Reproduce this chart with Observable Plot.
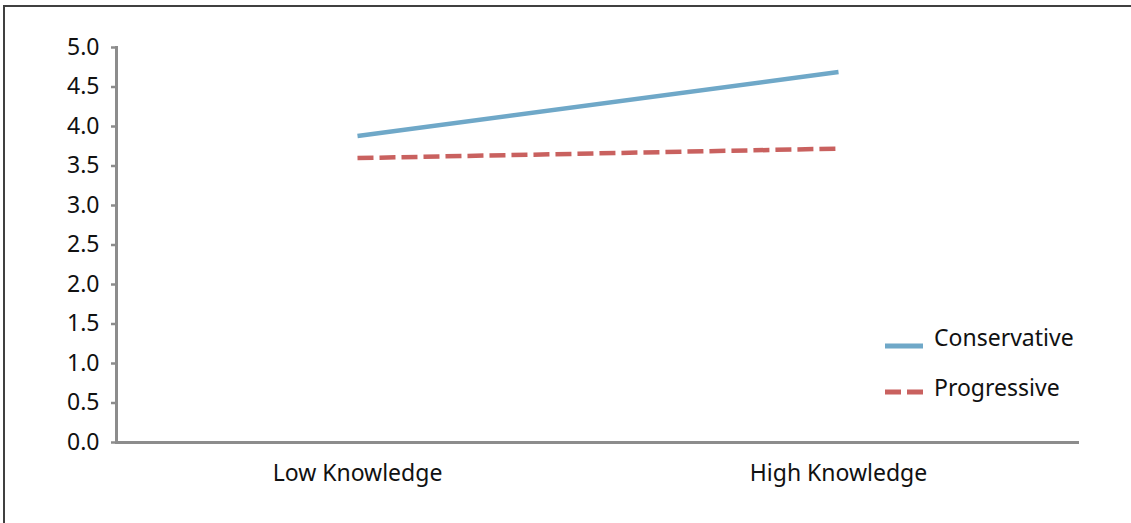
<!DOCTYPE html>
<html><head><meta charset="utf-8">
<script src="https://cdn.jsdelivr.net/npm/d3@7"></script>
<script src="https://cdn.jsdelivr.net/npm/@observablehq/plot@0.6"></script>
<style>
html,body{margin:0;padding:0;background:#fff;}
#wrap{position:relative;width:1131px;height:523px;overflow:hidden;}
#frame{position:absolute;left:3px;top:5px;width:1140px;height:540px;border-left:2px solid #404040;border-top:2px solid #404040;box-sizing:border-box;}
#chart{position:absolute;left:0;top:0;}
.legtext{position:absolute;left:934px;font-family:"Noto Sans",sans-serif;font-size:23px;line-height:23px;color:#111;white-space:nowrap;}
.legline{position:absolute;left:885px;}
</style></head>
<body><div id="wrap"><div id="frame"></div><div id="chart"></div><div id="legend"></div></div>
<script>
const categories = ["Low Knowledge", "High Knowledge"];
const seriesNames = ["Conservative", "Progressive"];
const conservative = [3.88, 4.69];
const progressive = [3.60, 3.72];
const yTicks = [0, 0.5, 1, 1.5, 2, 2.5, 3, 3.5, 4, 4.5, 5];
const colors = ["#6fa8c8", "#c9615f"];
const dashes = [null, "16,6"];

const data = [];
categories.forEach((c, i) => {
  data.push({series: seriesNames[0], cat: c, value: conservative[i]});
  data.push({series: seriesNames[1], cat: c, value: progressive[i]});
});

const axisColor = "#8c8c8c";
const chart = Plot.plot({
  width: 1131, height: 523,
  marginLeft: 116, marginRight: 52, marginTop: 47, marginBottom: 81,
  style: {fontFamily: '"Noto Sans",sans-serif', fontSize: "23px", color: "#111", background: "transparent", overflow: "visible"},
  x: {type: "point", domain: categories, padding: 0.5},
  y: {domain: [0, 5]},
  marks: [
    Plot.axisY({ticks: yTicks, tickFormat: d => d.toFixed(1), tickSize: 5, tickPadding: 12, stroke: axisColor, strokeWidth: 2.5, fill: "#111", label: null}),
    Plot.axisX({tickSize: 0, tickPadding: 22, fill: "#111", label: null}),
    Plot.frame({anchor: "left", stroke: axisColor, strokeWidth: 3}),
    ...seriesNames.map((s, i) => Plot.line(data.filter(d => d.series === s), {
      x: "cat", y: "value", stroke: colors[i], strokeWidth: 4.5,
      strokeDasharray: dashes[i] || undefined, strokeLinecap: "butt"
    })),
    Plot.ruleY([0], {stroke: axisColor, strokeWidth: 3})
  ]
});
document.getElementById("chart").appendChild(chart);

const leg = document.getElementById("legend");
const lineY = [346, 392];
const textTop = [326, 376];
seriesNames.forEach((s, i) => {
  const ln = document.createElement("div");
  ln.className = "legline";
  ln.style.top = (lineY[i] - 5) + "px";
  ln.innerHTML = `<svg width="38" height="10" style="display:block"><line x1="0" x2="38" y1="5" y2="5" stroke="${colors[i]}" stroke-width="5" ${dashes[i] ? 'stroke-dasharray="16,6"' : ''}/></svg>`;
  leg.appendChild(ln);
  const tx = document.createElement("div");
  tx.className = "legtext";
  tx.style.top = textTop[i] + "px";
  tx.textContent = s;
  leg.appendChild(tx);
});
</script></body></html>
